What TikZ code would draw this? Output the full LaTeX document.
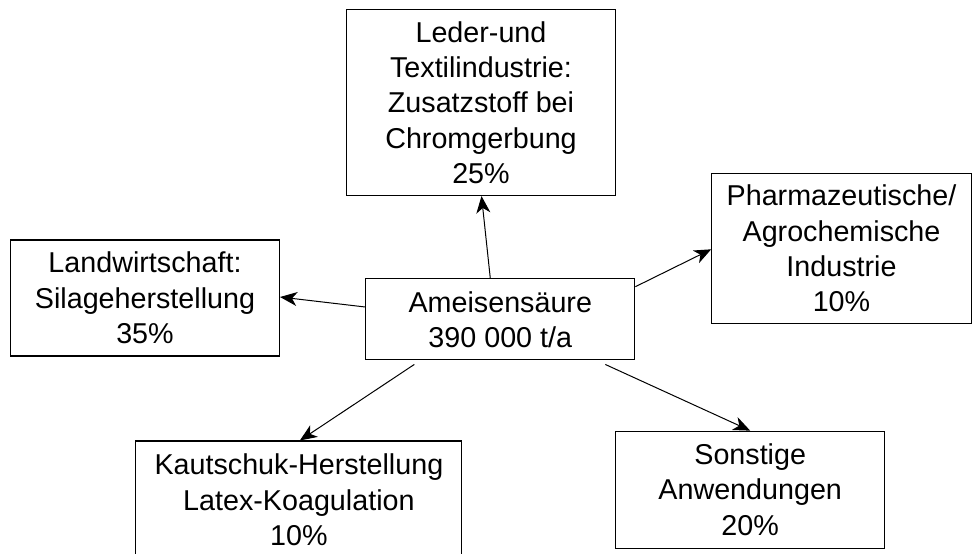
\documentclass[tikz,border=0pt]{standalone}
\usepackage{fontspec}
\setmainfont{Liberation Sans}
\usetikzlibrary{arrows.meta}
\begin{document}
\begin{tikzpicture}[x=1pt,y=-1pt,
  box/.style={draw=black,line width=1.1pt,fill=white,align=center,inner sep=0pt,
    font={\fontsize{28.7pt}{35.3pt}\selectfont}},
  conn/.style={line width=1pt,-{Stealth[length=17pt,width=14pt,inset=5pt]}}]
\useasboundingbox (0,0) rectangle (972,554);
\clip (0,0) rectangle (972,554);
\node[box,minimum width=269pt,minimum height=186pt] (top) at (481,102.5)
  {Leder-und\\Textilindustrie:\\Zusatzstoff bei\\Chromgerbung\\25\%};
\node[box,minimum width=269pt,minimum height=116pt] (land) at (145,298)
  {Landwirtschaft:\\Silageherstellung\\35\%};
\node[box,minimum width=269pt,minimum height=81pt] (c) at (500.3,319.4)
  {Ameisensäure\\390 000 t/a};
\node[box,minimum width=259.5pt,minimum height=150.7pt] (pharma) at (841.5,248.4)
  {Pharmazeutische/\\Agrochemische\\Industrie\\10\%};
\node[box,minimum width=326pt,minimum height=118pt] (kaut) at (298.9,500)
  {Kautschuk-Herstellung\\Latex-Koagulation\\10\%};
\node[box,minimum width=269pt,minimum height=117pt] (sonst) at (750.2,489.7)
  {Sonstige\\Anwendungen\\20\%};
\draw[conn] ([xshift=-10pt]c.north) -- ([xshift=0.5pt]top.south);
\draw[conn] ([yshift=12.4pt]c.west) -- ([yshift=1pt]land.east);
\draw[conn] ([yshift=32.7pt]c.east) -- ([yshift=-0.9pt]pharma.west);
\draw[conn] ([xshift=-86pt,yshift=-4pt]c.south) -- ([xshift=1pt]kaut.north);
\draw[conn] ([xshift=105pt,yshift=-4pt]c.south) -- (sonst.north);
\end{tikzpicture}
\end{document}
